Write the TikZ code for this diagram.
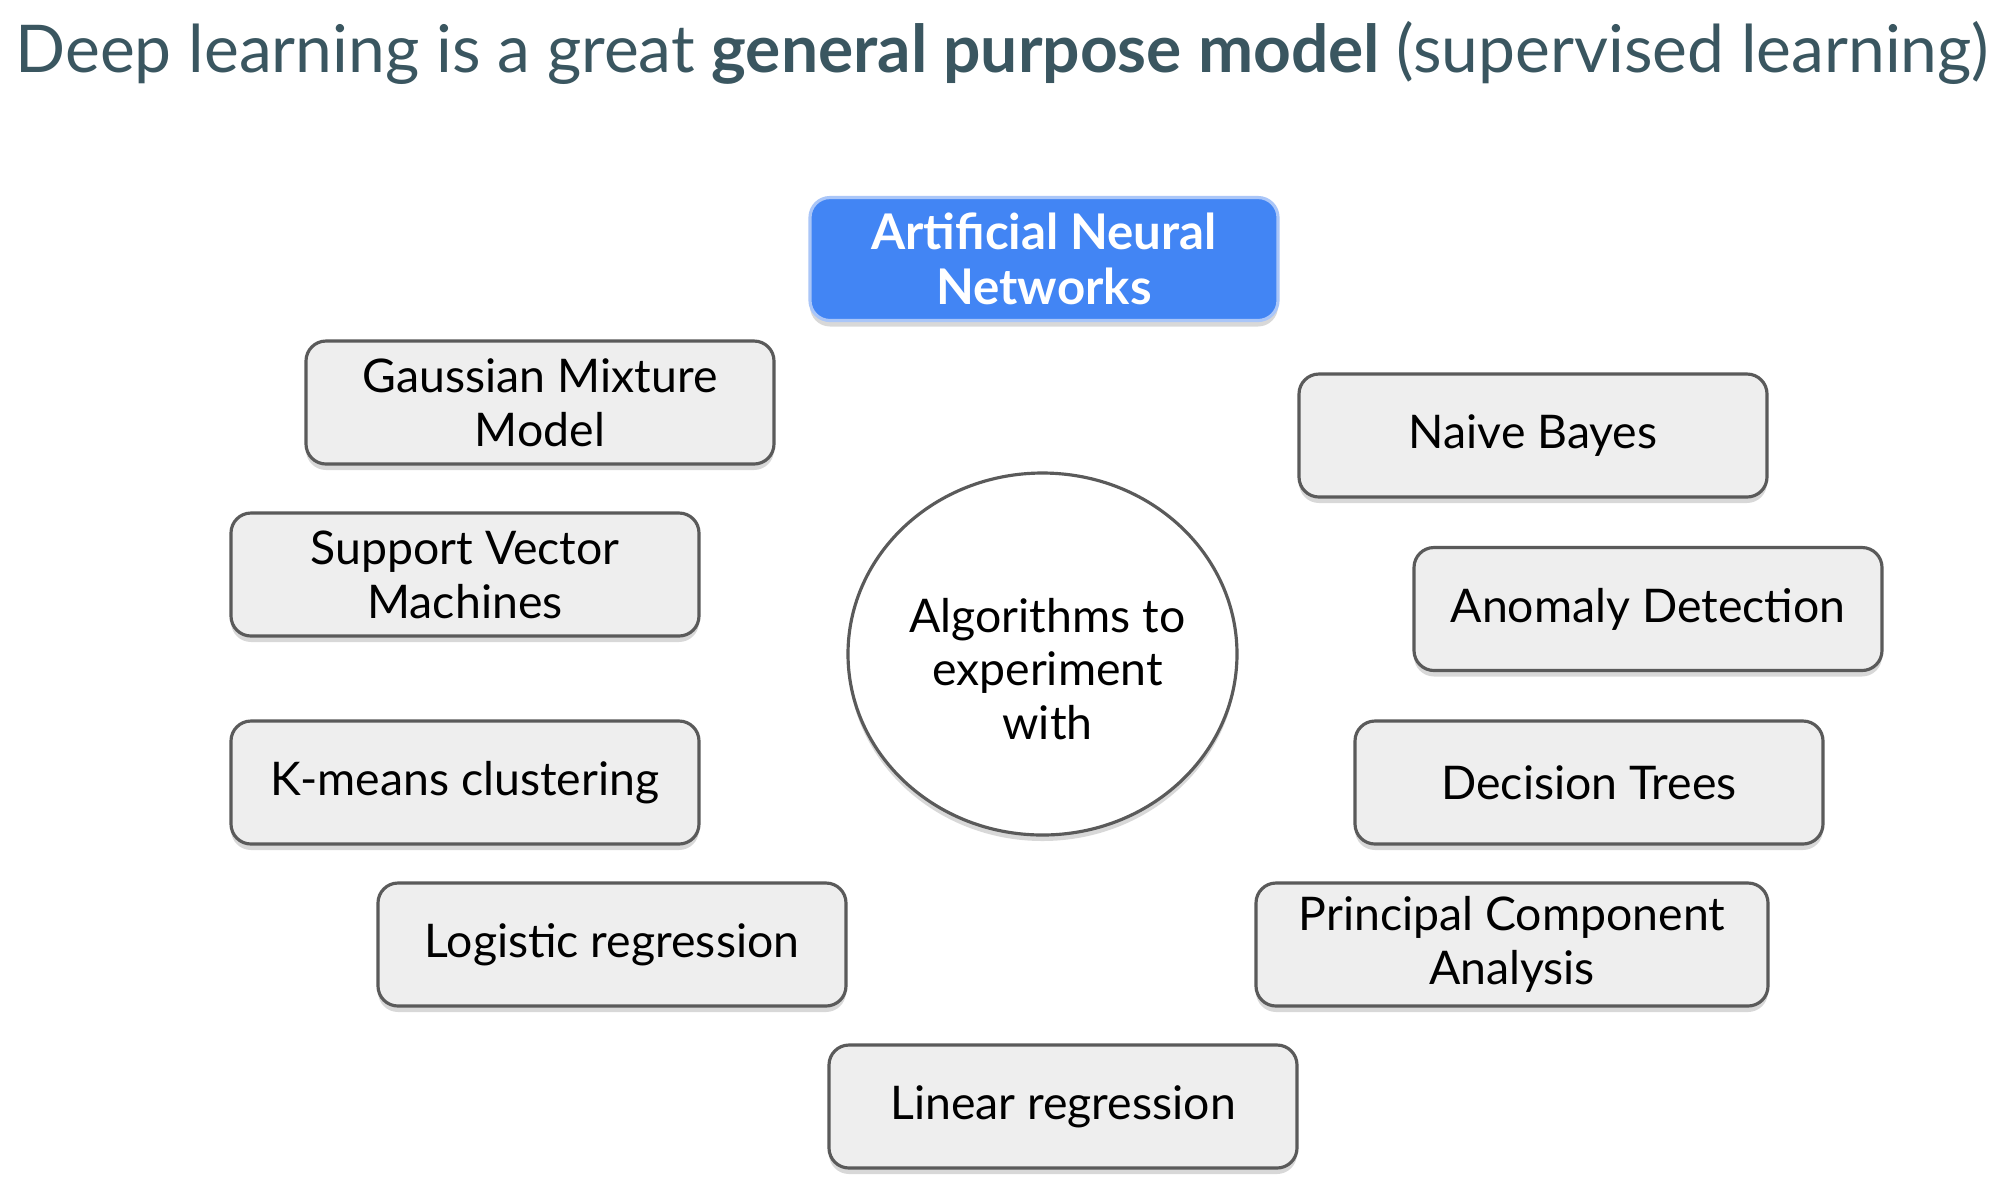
\documentclass[tikz,border=0pt]{standalone}
\usepackage{fontspec}
\setmainfont{Lato}
\usepackage{tikz}
\usetikzlibrary{shapes.geometric,shadows}

\definecolor{TitleSlate}{RGB}{58,86,96}
\definecolor{NetBlue}{RGB}{66,133,244}
\definecolor{NetEdge}{RGB}{170,198,248}
\definecolor{AlgoGray}{RGB}{238,238,238}
\definecolor{AlgoEdge}{RGB}{90,90,90}

\tikzset{
    algo/.style={draw=AlgoEdge, line width=0.9pt, fill=AlgoGray, rounded corners=0.2cm,
        minimum width=4.68cm, minimum height=1.23cm, inner sep=0pt, align=center,
        font=\fontsize{13.2}{15.3}\selectfont,
        drop shadow={shadow xshift=0pt, shadow yshift=-0.06cm, opacity=0.3}},
    net/.style={algo, draw=NetEdge, fill=NetBlue, text=white, font=\fontsize{14}{15.5}\selectfont\bfseries},
}

\begin{document}
\begin{tikzpicture}
    
    \useasboundingbox[fill=white] (0,0) rectangle (20,-11.88);
    
    %Title
    \node[anchor=west, inner sep=0pt, text=TitleSlate, font=\fontsize{18.75}{22}\selectfont] (title) at (0.15,-0.53)
        {Deep learning is a great \textbf{general purpose model} (supervised learning)};
    
    %Centre
    \node[ellipse, draw=AlgoEdge, line width=0.9pt, fill=white, minimum width=3.89cm, minimum height=3.62cm,
        inner sep=0pt, drop shadow={shadow xshift=0pt, shadow yshift=-0.06cm, opacity=0.3}] (algos) at (10.425,-6.54) {};
    \node[align=center, font=\fontsize{13.2}{15.3}\selectfont] (algostext) at ([xshift=0.05cm, yshift=-0.15cm]algos.center)
        {Algorithms to\\experiment\\with};
    
    %Top
    \node[net] (ann) at (10.44,-2.59) {Artificial Neural\\Networks};
    
    %Left side
    \node[algo] (gmm) at (5.40,-4.025) {Gaussian Mixture\\Model};
    \node[algo] (svm) at (4.65,-5.745) {Support Vector\\Machines};
    \node[algo] (kmeans) at (4.65,-7.825) {K-means clustering};
    \node[algo] (logreg) at (6.12,-9.445) {Logistic regression};
    
    %Right side
    \node[algo] (bayes) at (15.33,-4.355) {Naive Bayes};
    \node[algo] (anomaly) at (16.48,-6.09) {Anomaly Detection};
    \node[algo] (trees) at (15.89,-7.825) {Decision Trees};
    \node[algo, minimum width=5.12cm] (pca) at (15.12,-9.445) {Principal Component\\Analysis};
    
    %Bottom
    \node[algo] (linreg) at (10.63,-11.065) {Linear regression};
    
\end{tikzpicture}
\end{document}
